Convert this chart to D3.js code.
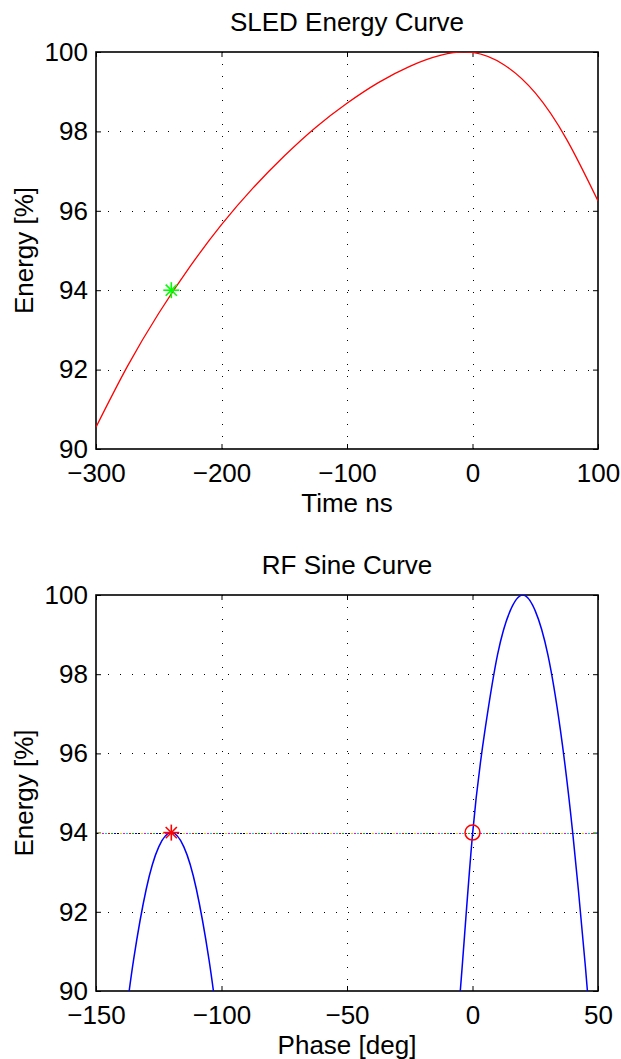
<!DOCTYPE html>
<html>
<head>
<meta charset="utf-8">
<script src="https://cdn.jsdelivr.net/npm/d3@7"></script>
<style>
body { margin: 0; background: #fff; }
svg text { font-family: "Liberation Sans", Arial, sans-serif; fill: #000; }
</style>
</head>
<body>
<svg id="chart" width="621" height="1059"></svg>
<script>
// SLED energy curve
const sledTime   = [-300, -275, -250, -225, -200, -175, -150, -125, -100, -75, -50, -25, 0, 25, 50, 75, 100];
const sledEnergy = [90.55, 92.08, 93.42, 94.6, 95.65, 96.57, 97.38, 98.1, 98.71, 99.23, 99.64, 99.92, 99.99, 99.68, 98.97, 97.8, 96.25];
const sledMarker = [-240, 94];

// RF sine curve, two visible arches
const rfPhaseA  = [-138, -135, -130, -125, -120, -115, -110, -105, -102];
const rfEnergyA = [89.4, 90.8, 92.57, 93.64, 94, 93.64, 92.57, 90.8, 89.4];
const rfPhaseB  = [-8, -5, 0, 5, 10, 15, 20, 25, 30, 35, 40, 45, 48];
const rfEnergyB = [88.3, 89.9, 93.95, 96.6, 98.5, 99.6, 100, 99.6, 98.5, 96.6, 93.95, 90.6, 88.3];
const rfStar    = [-120, 94];
const rfCircle  = [0, 94];
const rfLevel   = 94;

const yTicks     = [90, 92, 94, 96, 98, 100];
const sledXTicks = [-300, -200, -100, 0, 100];
const rfXTicks   = [-150, -100, -50, 0, 50];
const levelColors = ["#000000", "#d4d400", "#ff00ff", "#00d4d4", "#ff0000", "#00c000", "#0000ff"];

const svg = d3.select("#chart");
const left = 96, right = 598;
const fs = 26;

function panel(id, top, bottom, xDomain, xTicks, title, xLabel) {
    const x = d3.scaleLinear().domain(xDomain).range([left, right]);
    const y = d3.scaleLinear().domain([90, 100]).range([bottom, top]);
    const g = svg.append("g").attr("id", id);

    g.append("clipPath").attr("id", id + "-clip")
        .append("rect")
        .attr("x", left).attr("y", top)
        .attr("width", right - left).attr("height", bottom - top);

    // dotted grid
    g.selectAll(".vgrid")
        .data(xTicks.slice(1, -1))
        .enter().append("line")
        .attr("x1", d => Math.round(x(d)) + 0.5).attr("x2", d => Math.round(x(d)) + 0.5)
        .attr("y1", top).attr("y2", bottom)
        .attr("stroke", "#000").attr("stroke-width", 1)
        .attr("stroke-dasharray", "1 11")
        .attr("shape-rendering", "crispEdges");
    g.selectAll(".hgrid")
        .data(yTicks.slice(1, -1))
        .enter().append("line")
        .attr("x1", left).attr("x2", right)
        .attr("y1", d => Math.round(y(d)) + 0.5).attr("y2", d => Math.round(y(d)) + 0.5)
        .attr("stroke", "#000").attr("stroke-width", 1)
        .attr("stroke-dasharray", "1 11")
        .attr("shape-rendering", "crispEdges");

    // axes, ticks pointing inward
    g.append("g")
        .attr("transform", `translate(0,${bottom})`)
        .call(d3.axisBottom(x).tickValues(xTicks).tickSize(-5).tickPadding(15).tickFormat(d3.format("d")))
        .call(a => a.select(".domain").remove())
        .call(a => a.selectAll("text").attr("font-size", fs).style("font-family", null));
    g.append("g")
        .attr("transform", `translate(0,${top})`)
        .call(d3.axisTop(x).tickValues(xTicks).tickSize(-5).tickFormat(""))
        .call(a => a.select(".domain").remove());
    g.append("g")
        .attr("transform", `translate(${left},0)`)
        .call(d3.axisLeft(y).tickValues(yTicks).tickSize(-5).tickPadding(8).tickFormat(d3.format("d")))
        .call(a => a.select(".domain").remove())
        .call(a => a.selectAll("text").attr("font-size", fs).style("font-family", null));
    g.append("g")
        .attr("transform", `translate(${right},0)`)
        .call(d3.axisRight(y).tickValues(yTicks).tickSize(-5).tickFormat(""))
        .call(a => a.select(".domain").remove());
    g.selectAll(".tick line").attr("stroke", "#000").attr("stroke-width", 1);

    g.append("rect")
        .attr("x", left).attr("y", top)
        .attr("width", right - left).attr("height", bottom - top)
        .attr("fill", "none").attr("stroke", "#000").attr("stroke-width", 1.6);

    g.append("text")
        .attr("x", (left + right) / 2).attr("y", top - 21)
        .attr("text-anchor", "middle").attr("font-size", fs)
        .text(title);
    g.append("text")
        .attr("x", (left + right) / 2).attr("y", bottom + 63)
        .attr("text-anchor", "middle").attr("font-size", fs)
        .text(xLabel);
    g.append("text")
        .attr("transform", `translate(33,${(top + bottom) / 2}) rotate(-90)`)
        .attr("text-anchor", "middle").attr("font-size", fs)
        .text("Energy [%]");

    const plot = g.append("g").attr("clip-path", `url(#${id}-clip)`);
    return { x, y, g, plot };
}

function star(sel, px, py, color) {
    const r = 8;
    const s = sel.append("g").attr("transform", `translate(${px},${py})`)
        .attr("stroke", color).attr("stroke-width", 1.6);
    s.append("line").attr("x1", -r).attr("x2", r).attr("y1", 0).attr("y2", 0);
    s.append("line").attr("x1", 0).attr("x2", 0).attr("y1", -r).attr("y2", r);
    s.append("line").attr("x1", -r * 0.7).attr("x2", r * 0.7).attr("y1", -r * 0.7).attr("y2", r * 0.7);
    s.append("line").attr("x1", -r * 0.7).attr("x2", r * 0.7).attr("y1", r * 0.7).attr("y2", -r * 0.7);
}

// top panel
const p1 = panel("sled", 52, 449, [-300, 100], sledXTicks, "SLED Energy Curve", "Time ns");
const sledLine = d3.line()
    .x((d, i) => p1.x(sledTime[i]))
    .y(d => p1.y(d))
    .curve(d3.curveNatural);
p1.plot.append("path")
    .attr("d", sledLine(sledEnergy))
    .attr("fill", "none").attr("stroke", "#ff0000").attr("stroke-width", 1.3);
star(p1.g, p1.x(sledMarker[0]), p1.y(sledMarker[1]), "#00ff00");

// bottom panel
const p2 = panel("rf", 595, 991, [-150, 50], rfXTicks, "RF Sine Curve", "Phase [deg]");
levelColors.forEach((c, i) => {
    p2.plot.append("line")
        .attr("x1", left).attr("x2", right)
        .attr("y1", Math.round(p2.y(rfLevel)) + 0.5).attr("y2", Math.round(p2.y(rfLevel)) + 0.5)
        .attr("stroke", c).attr("stroke-width", 1)
        .attr("stroke-dasharray", "2 19")
        .attr("stroke-dashoffset", -3 * i)
        .attr("shape-rendering", "crispEdges");
});
const rfLine = d3.line().curve(d3.curveNatural);
p2.plot.append("path")
    .attr("d", rfLine(rfPhaseA.map((p, i) => [p2.x(p), p2.y(rfEnergyA[i])])))
    .attr("fill", "none").attr("stroke", "#0000ff").attr("stroke-width", 1.5);
p2.plot.append("path")
    .attr("d", rfLine(rfPhaseB.map((p, i) => [p2.x(p), p2.y(rfEnergyB[i])])))
    .attr("fill", "none").attr("stroke", "#0000ff").attr("stroke-width", 1.5);
star(p2.g, p2.x(rfStar[0]), p2.y(rfStar[1]), "#ff0000");
p2.g.append("circle")
    .attr("cx", p2.x(rfCircle[0])).attr("cy", p2.y(rfCircle[1]))
    .attr("r", 7.5)
    .attr("fill", "none").attr("stroke", "#ff0000").attr("stroke-width", 1.5);
</script>
</body>
</html>
